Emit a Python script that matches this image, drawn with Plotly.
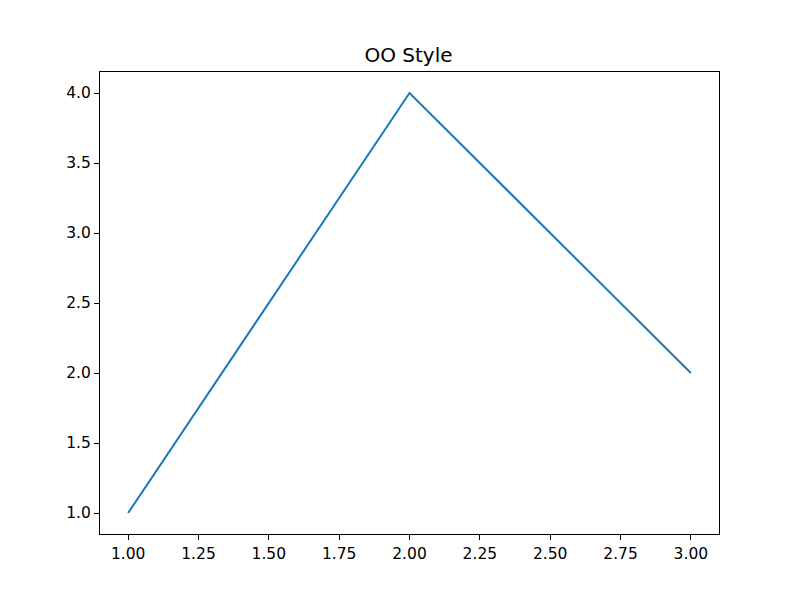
import plotly.graph_objects as go

x_values = [1, 2, 3]
y_values = [1, 4, 2]
title_text = "OO Style"

fig = go.Figure()
fig.add_trace(go.Scatter(x=x_values, y=y_values, mode="lines",
                         line=dict(color="#1f77b4", width=2)))

axis_common = dict(showline=True, mirror=True, linecolor="black", linewidth=1,
                   ticks="outside", ticklen=5, tickwidth=1, tickcolor="black",
                   showgrid=False, zeroline=False,
                   tickfont=dict(family="DejaVu Sans", size=15.5, color="black"))

fig.update_layout(
    width=799, height=600,
    margin=dict(l=92, r=88, t=64, b=74),
    paper_bgcolor="white", plot_bgcolor="white",
    showlegend=False,
    title=dict(text=title_text, x=400.5 / 799, xanchor="center",
               xref="container", yref="container", y=1 - 47 / 600, yanchor="middle",
               font=dict(family="DejaVu Sans", size=20, color="black")),
    xaxis=dict(range=[0.9, 3.1], tick0=1, dtick=0.25, tickformat=".2f", **axis_common),
    yaxis=dict(range=[0.85, 4.15], tick0=1, dtick=0.5, tickformat=".1f", **axis_common),
)

fig.write_html("out.html")
